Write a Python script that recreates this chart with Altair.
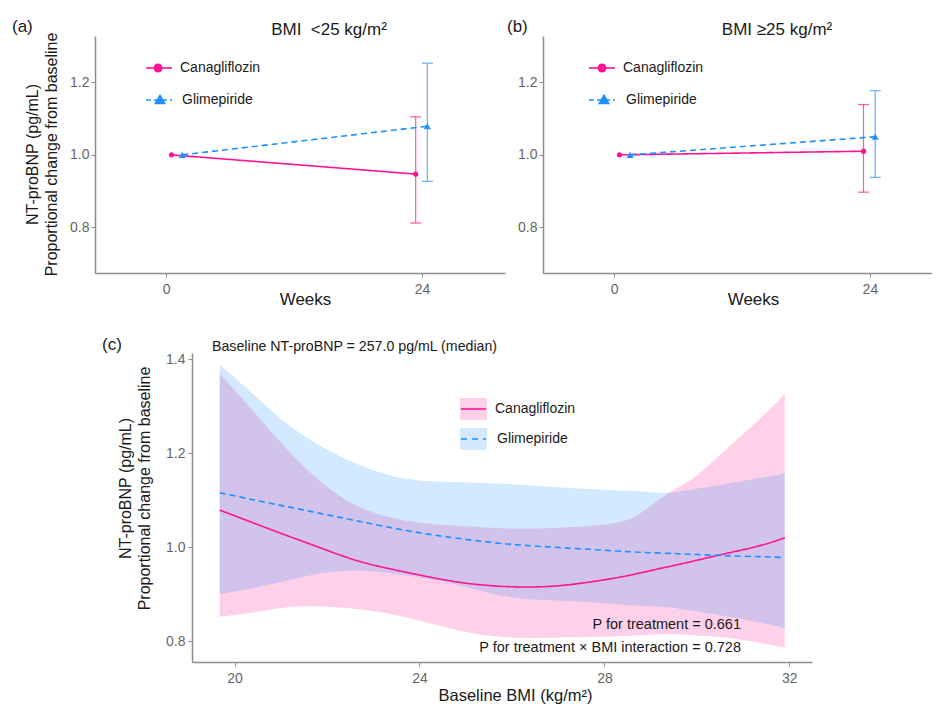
import altair as alt
import pandas as pd

FONT = "Liberation Sans"
PINK = "#FF1493"
BLUE = "#1E90FF"
AXIS_GREY = "#8c8c8c"
LABEL_GREY = "#666666"
TREAT = ["Canagliflozin", "Glimepiride"]

# ---------- panels (a) and (b): week 0 and week 24 (dodged positions) ----------
week_cana = [0.5, 23.4]
week_glim = [1.5, 24.5]

a_cana = [1.000, 0.947]
a_cana_lo = [1.000, 0.812]
a_cana_hi = [1.000, 1.105]
a_glim = [1.000, 1.079]
a_glim_lo = [1.000, 0.927]
a_glim_hi = [1.000, 1.253]

b_cana = [1.000, 1.010]
b_cana_lo = [1.000, 0.897]
b_cana_hi = [1.000, 1.139]
b_glim = [1.000, 1.050]
b_glim_lo = [1.000, 0.938]
b_glim_hi = [1.000, 1.177]

week_ticks = [0, 24]
week_yticks = [0.8, 1.0, 1.2]

# ---------- panel (c): fitted curves vs baseline BMI ----------
c_bmi = [19.68, 20.4, 21.1, 21.85, 22.7, 23.75, 24.9, 26.0, 27.1, 28.25, 28.85, 29.4, 29.9, 30.6, 31.35, 31.9]
c_cana = [1.079, 1.052, 1.026, 0.999, 0.970, 0.946, 0.925, 0.916, 0.919, 0.935, 0.947, 0.959, 0.970, 0.986, 1.003, 1.020]
c_cana_lo = [0.852, 0.861, 0.872, 0.874, 0.868, 0.850, 0.822, 0.808, 0.808, 0.811, 0.813, 0.815, 0.813, 0.808, 0.797, 0.787]
c_cana_hi = [1.369, 1.290, 1.212, 1.141, 1.086, 1.056, 1.045, 1.040, 1.042, 1.052, 1.077, 1.116, 1.145, 1.205, 1.272, 1.326]
c_glim = [1.116, 1.101, 1.087, 1.072, 1.055, 1.035, 1.018, 1.006, 0.999, 0.992, 0.989, 0.987, 0.985, 0.982, 0.980, 0.978]
c_glim_lo = [0.900, 0.913, 0.928, 0.944, 0.950, 0.940, 0.918, 0.893, 0.886, 0.879, 0.875, 0.872, 0.865, 0.854, 0.840, 0.828]
c_glim_hi = [1.388, 1.326, 1.265, 1.216, 1.175, 1.145, 1.138, 1.134, 1.127, 1.121, 1.118, 1.116, 1.123, 1.134, 1.147, 1.157]
c_xticks = [20, 24, 28, 32]
c_yticks = [0.8, 1.0, 1.2, 1.4]

COLOR = alt.Color("Treatment:N", scale=alt.Scale(domain=TREAT, range=[PINK, BLUE]), legend=None)
DASH = alt.StrokeDash("Treatment:N", scale=alt.Scale(domain=TREAT, range=[[1, 0], [6, 4]]), legend=None)


def txt(s, x, y, size=14, align="left", baseline="alphabetic", color="#1a1a1a"):
    return alt.Chart(pd.DataFrame({"t": [s]})).mark_text(
        align=align, baseline=baseline, fontSize=size, font=FONT, color=color
    ).encode(text="t:N", x=alt.value(x), y=alt.value(y))


def axis_common(**kw):
    d = dict(grid=False, domainColor=AXIS_GREY, domainWidth=1.5, tickColor=AXIS_GREY,
             tickSize=4, labelColor=LABEL_GREY, labelFont=FONT, labelFontSize=14,
             titleFont=FONT, titleFontWeight="normal", titleColor="#1a1a1a")
    d.update(kw)
    return alt.Axis(**d)


def week_panel(cm, cl, ch, gm, gl, gh, xmax, width, title, tag, tag_x, with_ytitle, leg):
    df = pd.DataFrame({
        "Treatment": [TREAT[0]] * 2 + [TREAT[1]] * 2,
        "Week": week_cana + week_glim,
        "Mean": cm + gm,
        "Lo": cl + gl,
        "Hi": ch + gh,
    })
    xs = alt.Scale(domain=[-6.68, xmax], nice=False, zero=False)
    ys = alt.Scale(domain=[0.674, 1.328], nice=False, zero=False)
    xaxis = axis_common(values=week_ticks, title="Weeks", titleFontSize=17, labelPadding=5,
                        titleX=210, titleY=31, titleBaseline="alphabetic")
    if with_ytitle:
        yaxis = axis_common(values=week_yticks, format=".1f", labelPadding=2,
                            title=["NT-proBNP (pg/mL)", "Proportional change from baseline"],
                            titleFontSize=16, titleLineHeight=19, titleAngle=270,
                            titleAlign="center", titleBaseline="alphabetic",
                            titleX=-58, titleY=118)
    else:
        yaxis = axis_common(values=week_yticks, format=".1f", labelPadding=2, title="")
    base = alt.Chart(df).encode(
        x=alt.X("Week:Q", scale=xs, axis=xaxis),
        y=alt.Y("Mean:Q", scale=ys, axis=yaxis),
        color=COLOR,
    )
    err = alt.Chart(df).transform_filter("datum.Week > 12")
    rules = err.mark_rule(strokeWidth=1.2, opacity=0.7).encode(
        x="Week:Q", y="Lo:Q", y2="Hi:Q", color=COLOR)
    cap_lo = err.mark_tick(orient="horizontal", size=11, thickness=1.2, opacity=0.7).encode(
        x="Week:Q", y="Lo:Q", color=COLOR)
    cap_hi = err.mark_tick(orient="horizontal", size=11, thickness=1.2, opacity=0.7).encode(
        x="Week:Q", y="Hi:Q", color=COLOR)
    lines = base.mark_line(strokeWidth=1.6).encode(strokeDash=DASH)
    pts_c = base.transform_filter(alt.datum.Treatment == TREAT[0]).mark_point(
        filled=True, opacity=1, shape="circle", size=28)
    pts_g = base.transform_filter(alt.datum.Treatment == TREAT[1]).mark_point(
        filled=True, opacity=1, shape="triangle-up", size=50)

    lx1, lx2, lcx, ltx1, ltx2 = leg
    leg_df = pd.DataFrame({"Treatment": TREAT})
    l1 = alt.Chart(leg_df.iloc[:1]).mark_rule(strokeWidth=1.6, color=PINK).encode(
        x=alt.value(lx1), x2=alt.value(lx2), y=alt.value(32))
    p1 = alt.Chart(leg_df.iloc[:1]).mark_point(filled=True, opacity=1, shape="circle", size=80, color=PINK).encode(
        x=alt.value(lcx), y=alt.value(32))
    l2 = alt.Chart(leg_df.iloc[1:]).mark_rule(strokeWidth=1.6, color=BLUE, strokeDash=[5, 3]).encode(
        x=alt.value(lx1), x2=alt.value(lx2), y=alt.value(64))
    p2 = alt.Chart(leg_df.iloc[1:]).mark_point(filled=True, opacity=1, shape="triangle-up", size=150, color=BLUE).encode(
        x=alt.value(lcx + 2), y=alt.value(63))
    t1 = txt(TREAT[0], ltx1, 32, size=14, baseline="middle")
    t2 = txt(TREAT[1], ltx2, 64, size=14, baseline="middle")
    ttl = txt(title, 234, -1, size=17, align="center")
    tg = txt(tag, tag_x, -4, size=17)
    return alt.layer(rules, cap_lo, cap_hi, lines, pts_c, pts_g, l1, p1, l2, p2, t1, t2, ttl, tg).properties(
        width=width, height=237)


panel_a = week_panel(a_cana, a_cana_lo, a_cana_hi, a_glim, a_glim_lo, a_glim_hi, 31.78, 410,
                     "BMI\u00a0 <25 kg/m\u00b2", "(a)", -83, True, (51, 77, 63, 85, 87))
panel_b = week_panel(b_cana, b_cana_lo, b_cana_hi, b_glim, b_glim_lo, b_glim_hi, 29.83, 389,
                     "BMI \u226525 kg/m\u00b2", "(b)", -36, False, (46, 72, 59, 80, 83))

# ---------- panel (c) ----------
dfc = pd.DataFrame({
    "Treatment": [TREAT[0]] * len(c_bmi) + [TREAT[1]] * len(c_bmi),
    "BMI": c_bmi + c_bmi,
    "Fit": c_cana + c_glim,
    "Lo": c_cana_lo + c_glim_lo,
    "Hi": c_cana_hi + c_glim_hi,
})
xsc = alt.Scale(domain=[19.08, 32.49], range=[97, 717], nice=False, zero=False)
ysc = alt.Scale(domain=[0.756, 1.413], nice=False, zero=False)
xaxis_c = axis_common(values=c_xticks, title="Baseline BMI (kg/m\u00b2)", titleFontSize=16.5, labelPadding=5,
                      titleX=420, titleY=38, titleBaseline="alphabetic")
yaxis_c = axis_common(values=c_yticks, format=".1f", offset=-97, labelPadding=3,
                      title=["NT-proBNP (pg/mL)", "Proportional change from baseline"],
                      titleFontSize=16, titleLineHeight=19, titleAngle=270, titleAlign="center",
                      titleBaseline="alphabetic", titleX=-62, titleY=135)

cbase = alt.Chart(dfc).encode(x=alt.X("BMI:Q", scale=xsc, axis=xaxis_c), color=COLOR)
area_c = cbase.transform_filter(alt.datum.Treatment == TREAT[0]).mark_area(
    fillOpacity=0.2, interpolate="natural").encode(y=alt.Y("Lo:Q", scale=ysc, axis=yaxis_c), y2="Hi:Q")
area_g = cbase.transform_filter(alt.datum.Treatment == TREAT[1]).mark_area(
    fillOpacity=0.2, interpolate="natural").encode(y=alt.Y("Lo:Q", scale=ysc), y2="Hi:Q")
line_c = cbase.mark_line(strokeWidth=1.6, interpolate="natural").encode(
    y=alt.Y("Fit:Q", scale=ysc), strokeDash=DASH)

legc_df = pd.DataFrame({"Treatment": TREAT})
r1 = alt.Chart(legc_df.iloc[:1]).mark_rect(color=PINK, fillOpacity=0.2).encode(
    x=alt.value(365), x2=alt.value(392), y=alt.value(45), y2=alt.value(67))
r2 = alt.Chart(legc_df.iloc[1:]).mark_rect(color=BLUE, fillOpacity=0.2).encode(
    x=alt.value(365), x2=alt.value(392), y=alt.value(75), y2=alt.value(97))
rl1 = alt.Chart(legc_df.iloc[:1]).mark_rule(color=PINK, strokeWidth=1.6).encode(
    x=alt.value(366), x2=alt.value(391), y=alt.value(56))
rl2 = alt.Chart(legc_df.iloc[1:]).mark_rule(color=BLUE, strokeWidth=1.6, strokeDash=[6, 5]).encode(
    x=alt.value(366), x2=alt.value(391), y=alt.value(86))
tc1 = txt(TREAT[0], 400, 56, size=14, baseline="middle")
tc2 = txt(TREAT[1], 402, 86, size=14, baseline="middle")
ctitle = txt("Baseline NT-proBNP = 257.0 pg/mL (median)", 117, -2, size=14.2)
ctag = txt("(c)", 7, -3, size=17)
pv1 = txt("P for treatment = 0.661", 646, 276, size=14.5, align="right")
pv2 = txt("P for treatment \u00d7 BMI interaction = 0.728", 646, 299, size=14.5, align="right")

panel_c = alt.layer(area_c, area_g, line_c, r1, r2, rl1, rl2, tc1, tc2, ctitle, ctag, pv1, pv2).properties(
    width=717, height=309)

top = alt.hconcat(panel_a, panel_b, spacing=38, bounds="flush")
chart = alt.vconcat(top, panel_c, spacing=317, bounds="flush").properties(
    padding={"left": 4, "top": 10, "right": 0, "bottom": 0}
).configure(font=FONT).configure_view(strokeWidth=0)

chart.save("out.html", embed_options={"renderer": "svg", "actions": False})
